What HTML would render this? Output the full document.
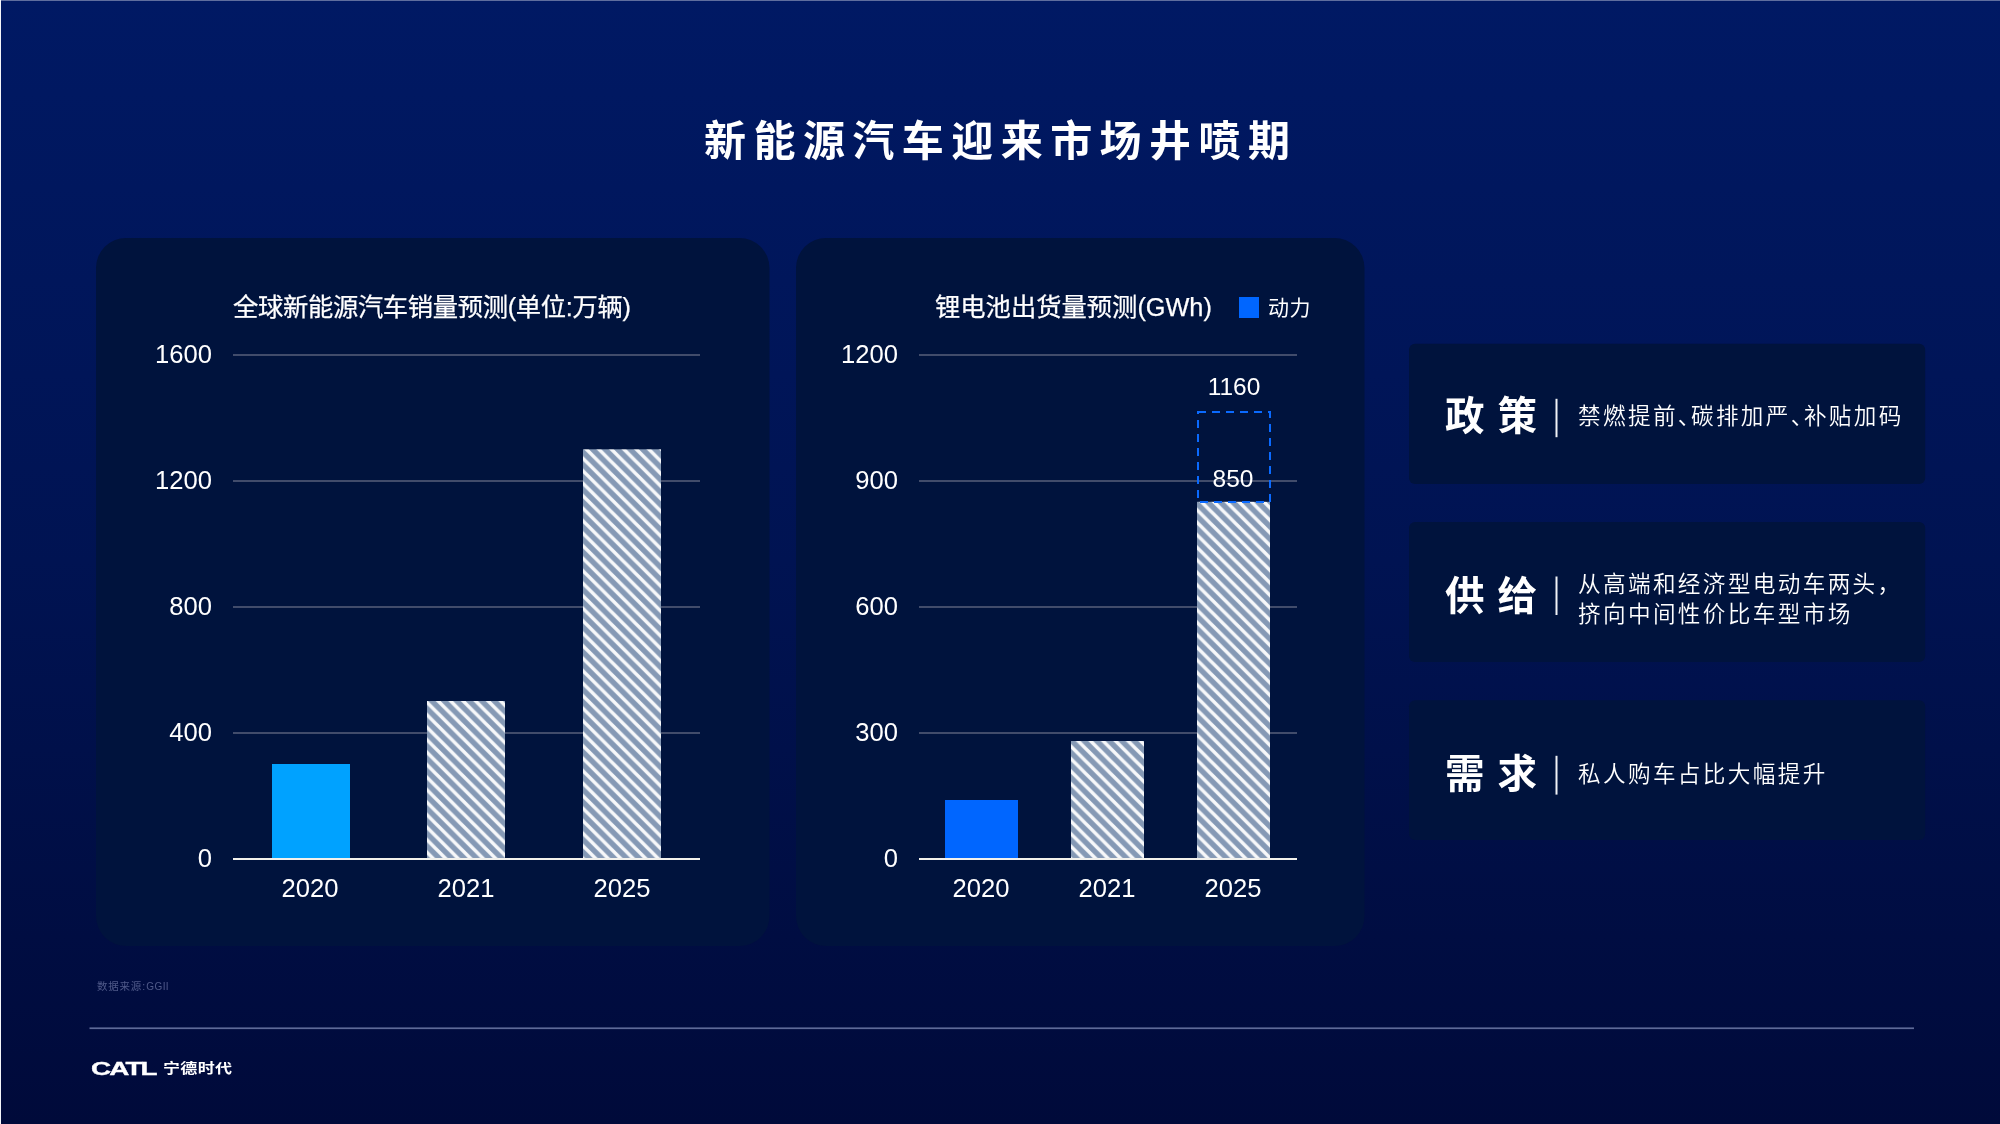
<!DOCTYPE html>
<html lang="zh-CN">
<head>
<meta charset="utf-8">
<title>新能源汽车迎来市场井喷期</title>
<style>
html,body{margin:0;padding:0;}
body{width:2000px;height:1124px;overflow:hidden;position:relative;background:linear-gradient(180deg,#001964 0%,#001352 50%,#000a3a 100%);font-family:"Liberation Sans","Noto Sans CJK SC",sans-serif;color:#fff;}
#gfx{position:absolute;left:0;top:0;width:2000px;height:1124px;}
.t{position:absolute;white-space:nowrap;line-height:1;margin:0;will-change:transform;}
.cjk{font-family:"Liberation Sans","Noto Sans CJK SC",sans-serif;}
.num{font-family:"Liberation Sans",sans-serif;font-size:25.6px;color:#fff;}
.ylab{text-align:right;width:80px;}
.xlab{text-align:center;width:100px;}
#title{left:703.5px;top:120.76px;font-size:42px;font-weight:700;letter-spacing:7.45px;}
.ctitle{font-family:"Liberation Sans","Noto Sans CJK SC",sans-serif;font-size:25.3px;letter-spacing:-0.35px;font-weight:400;-webkit-text-stroke:0.25px #fff;}
.key{font-size:39.5px;font-weight:700;letter-spacing:13px;}
.desc{font-size:22.6px;letter-spacing:2.37px;font-weight:350;line-height:29.8px;}
.pn{margin-right:-11.9px;}
.pc{margin-right:-10px;}
</style>
</head>
<body>
<svg id="gfx" width="2000" height="1124" viewBox="0 0 2000 1124">
  <defs>
    <pattern id="hatch" patternUnits="userSpaceOnUse" width="12.5" height="12.5" x="0" y="0" patternTransform="translate(-0.35,0)">
      <rect width="12.5" height="12.5" fill="#8599b5"/>
      <path d="M-12.5,-12.5 L25,25 M-12.5,0 L12.5,25 M0,-12.5 L25,12.5" stroke="#f7f8fa" stroke-width="3.5"/>
    </pattern>
  </defs>
  <!-- edge lines -->
  <rect x="0" y="0" width="2000" height="1" fill="#5f6e9e"/>
  <rect x="0" y="0" width="1" height="1124" fill="#f4f5f9"/>
  <!-- panels -->
  <rect x="96" y="238" width="673.5" height="708" rx="30" ry="30" fill="#00133d"/>
  <rect x="796" y="238" width="568.5" height="708" rx="30" ry="30" fill="#00133d"/>
  <!-- cards -->
  <rect x="1409" y="343.7" width="516.2" height="140.3" rx="6" ry="6" fill="#00133d"/>
  <rect x="1409" y="521.9" width="516.2" height="140" rx="6" ry="6" fill="#00133d"/>
  <rect x="1409" y="700.2" width="516.2" height="139.9" rx="6" ry="6" fill="#00133d"/>
  <!-- left chart grid -->
  <g fill="#414c6b">
    <rect x="233" y="354" width="467" height="2"/>
    <rect x="233" y="480" width="467" height="2"/>
    <rect x="233" y="606" width="467" height="2"/>
    <rect x="233" y="732" width="467" height="2"/>
    <rect x="919" y="354" width="378" height="2"/>
    <rect x="919" y="480" width="378" height="2"/>
    <rect x="919" y="606" width="378" height="2"/>
    <rect x="919" y="732" width="378" height="2"/>
  </g>
  <!-- left bars -->
  <rect x="272" y="764" width="78" height="94" fill="#00a2ff"/>
  <rect x="427" y="701" width="78" height="157" fill="url(#hatch)"/>
  <rect x="583" y="449.3" width="78" height="408.7" fill="url(#hatch)"/>
  <!-- right bars -->
  <rect x="945" y="800" width="73" height="58" fill="#0066ff"/>
  <rect x="1071" y="741" width="73" height="117" fill="url(#hatch)"/>
  <rect x="1197" y="501.8" width="73" height="356.2" fill="url(#hatch)"/>
  <rect x="1198" y="412" width="72" height="90" fill="none" stroke="#0a6aff" stroke-width="2" stroke-dasharray="8 6"/>
  <!-- baselines -->
  <rect x="233" y="858" width="467" height="2" fill="#f2f1ec"/>
  <rect x="919" y="858" width="378" height="2" fill="#f2f1ec"/>
  <!-- legend -->
  <rect x="1239" y="297" width="20" height="21" fill="#0066ff"/>
  <!-- card dividers -->
  <rect x="1555.5" y="398.8" width="2" height="38.4" fill="#f0f2f6"/>
  <rect x="1555.5" y="576.5" width="2" height="38.5" fill="#f0f2f6"/>
  <rect x="1555.5" y="755.8" width="2" height="38.8" fill="#f0f2f6"/>
  <!-- footer line -->
  <rect x="89.5" y="1027.4" width="1824.5" height="1.7" fill="#5e6a98"/>
</svg>

<div class="t cjk" id="title">新能源汽车迎来市场井喷期</div>

<div class="t cjk ctitle" style="left:233px;top:294.9px;letter-spacing:-0.32px;">全球新能源汽车销量预测(单位:万辆)</div>
<div class="t cjk ctitle" style="left:935px;top:294.9px;letter-spacing:0px;">锂电池出货量预测(GWh)</div>
<div class="t cjk" style="left:1268px;top:297.3px;font-size:21px;letter-spacing:0.6px;">动力</div>

<!-- left y labels -->
<div class="t num ylab" style="left:132px;top:342.2px;">1600</div>
<div class="t num ylab" style="left:132px;top:468.2px;">1200</div>
<div class="t num ylab" style="left:132px;top:594.2px;">800</div>
<div class="t num ylab" style="left:132px;top:720.2px;">400</div>
<div class="t num ylab" style="left:132px;top:846.2px;">0</div>
<!-- left x labels -->
<div class="t num xlab" style="left:260.3px;top:876.2px;">2020</div>
<div class="t num xlab" style="left:415.6px;top:876.2px;">2021</div>
<div class="t num xlab" style="left:572px;top:876.2px;">2025</div>

<!-- right y labels -->
<div class="t num ylab" style="left:818px;top:342.2px;">1200</div>
<div class="t num ylab" style="left:818px;top:468.2px;">900</div>
<div class="t num ylab" style="left:818px;top:594.2px;">600</div>
<div class="t num ylab" style="left:818px;top:720.2px;">300</div>
<div class="t num ylab" style="left:818px;top:846.2px;">0</div>
<!-- right x labels -->
<div class="t num xlab" style="left:930.9px;top:876.2px;">2020</div>
<div class="t num xlab" style="left:1056.9px;top:876.2px;">2021</div>
<div class="t num xlab" style="left:1183.2px;top:876.2px;">2025</div>
<!-- data labels -->
<div class="t num xlab" style="left:1183.5px;top:374.6px;font-size:24.5px;">1160</div>
<div class="t num xlab" style="left:1183.2px;top:466.6px;font-size:24.5px;">850</div>

<!-- cards -->
<div class="t cjk key" style="left:1444.5px;top:396.83px;">政策</div>
<div class="t cjk desc" style="left:1577.7px;top:401.9px;">禁燃提前<span class="pn">、</span>碳排加严<span class="pn">、</span>补贴加码</div>

<div class="t cjk key" style="left:1444.5px;top:576.53px;">供给</div>
<div class="t cjk desc" style="left:1577.7px;top:569.7px;">从高端和经济型电动车两头<span class="pc">，</span><br>挤向中间性价比车型市场</div>

<div class="t cjk key" style="left:1444.5px;top:754.7px;">需求</div>
<div class="t cjk desc" style="left:1577.7px;top:759.9px;">私人购车占比大幅提升</div>

<!-- footer -->
<div class="t cjk" style="left:96.5px;top:980.7px;font-size:10.5px;color:#4f5a89;letter-spacing:0.78px;">数据来源<span style="margin-right:0.5px">:</span><span style="font-size:10px;letter-spacing:0.4px">GGII</span></div>
<div class="t" id="catl" style="left:90.6px;top:1060.3px;font-size:18.2px;font-weight:700;transform-origin:0 50%;transform:scaleX(1.53);letter-spacing:-1.2px;-webkit-text-stroke:0.35px #fff;">CATL</div>
<div class="t cjk" style="left:163px;top:1062.1px;font-size:13.5px;font-weight:700;letter-spacing:0.25px;transform-origin:0 50%;transform:scaleX(1.26);">宁德时代</div>
</body>
</html>
